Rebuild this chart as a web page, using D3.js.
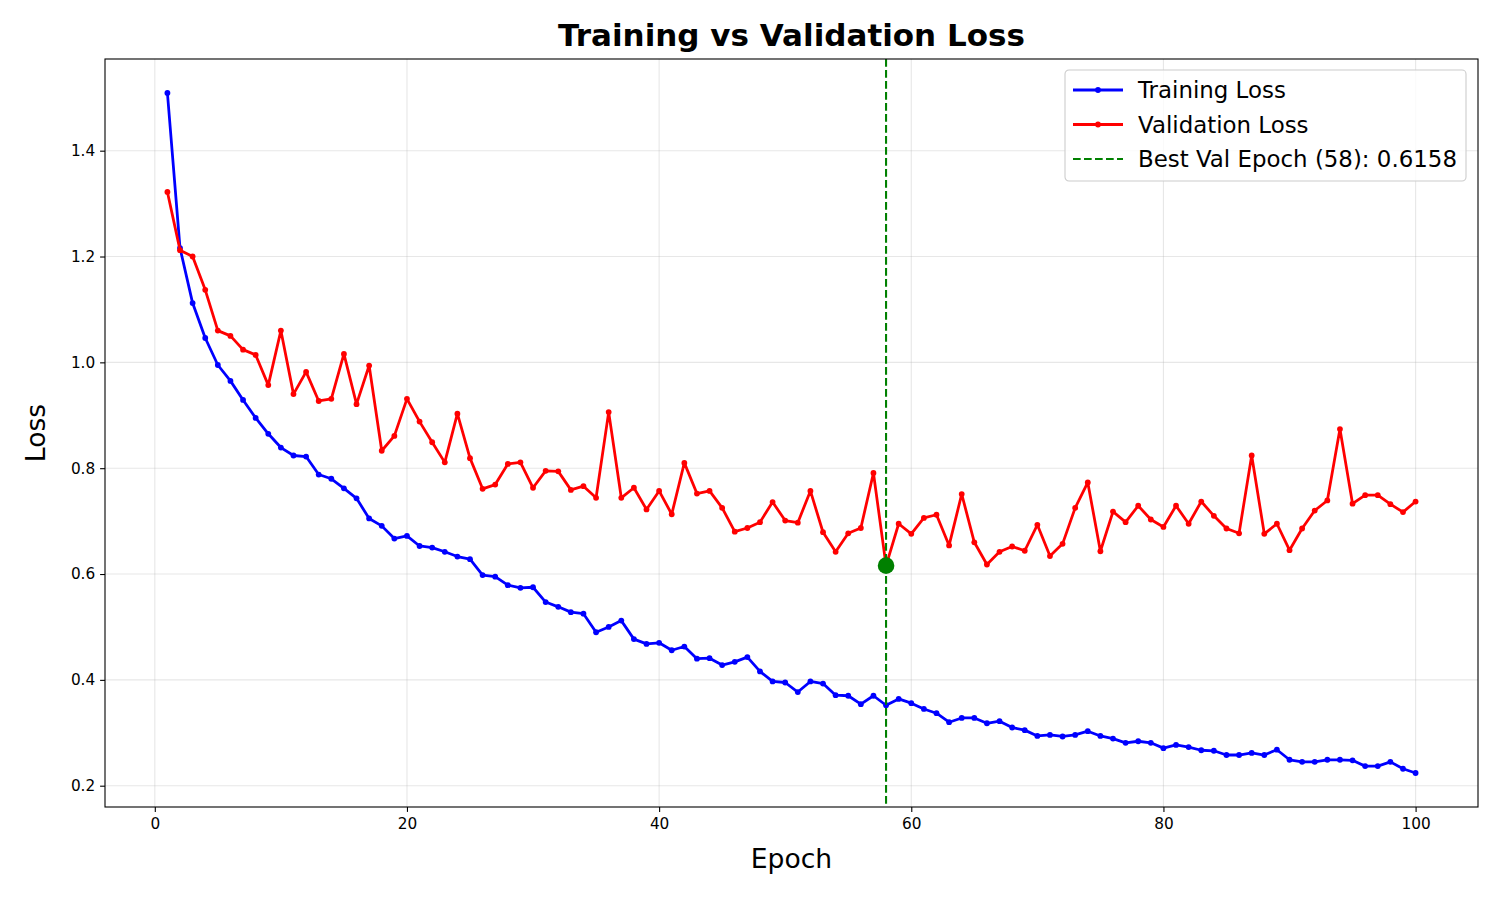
<!DOCTYPE html>
<html>
<head>
<meta charset="utf-8">
<script src="https://d3js.org/d3.v7.min.js"></script>
<style>
  body { margin: 0; background: #fff; }
  svg text { font-family: "DejaVu Sans", sans-serif; }
</style>
</head>
<body>
<div id="my_dataviz"></div>
<script>

// data
var trainLoss = [
  1.509, 1.216, 1.112, 1.046, 0.995, 0.965, 0.929, 0.895, 0.865, 0.839,
  0.824, 0.822, 0.788, 0.780, 0.762, 0.743, 0.705, 0.691, 0.667, 0.672,
  0.653, 0.650, 0.642, 0.633, 0.628, 0.598, 0.595, 0.579, 0.574, 0.575,
  0.547, 0.538, 0.528, 0.525, 0.490, 0.500, 0.512, 0.477, 0.468, 0.470,
  0.456, 0.463, 0.440, 0.441, 0.428, 0.434, 0.443, 0.416, 0.397, 0.395,
  0.377, 0.397, 0.393, 0.371, 0.370, 0.354, 0.370, 0.352, 0.364, 0.356,
  0.345, 0.337, 0.320, 0.328, 0.328, 0.318, 0.322, 0.310, 0.305, 0.294,
  0.296, 0.293, 0.296, 0.303, 0.294, 0.289, 0.281, 0.284, 0.281, 0.271,
  0.277, 0.273, 0.267, 0.266, 0.258, 0.258, 0.262, 0.258, 0.268, 0.249,
  0.245, 0.245, 0.249, 0.249, 0.248, 0.237, 0.237, 0.245, 0.232, 0.224
];
var valLoss = [
  1.322, 1.212, 1.200, 1.137, 1.060, 1.050, 1.024, 1.014, 0.957, 1.060,
  0.940, 0.982, 0.927, 0.931, 1.016, 0.921, 0.994, 0.833, 0.861, 0.931,
  0.888, 0.849, 0.811, 0.903, 0.819, 0.761, 0.769, 0.808, 0.811, 0.763,
  0.795, 0.794, 0.759, 0.766, 0.744, 0.906, 0.744, 0.763, 0.722, 0.757,
  0.713, 0.810, 0.752, 0.757, 0.725, 0.680, 0.687, 0.698, 0.736, 0.701,
  0.697, 0.757, 0.679, 0.642, 0.677, 0.687, 0.791, 0.6158, 0.695, 0.676,
  0.706, 0.712, 0.654, 0.751, 0.660, 0.618, 0.642, 0.652, 0.644, 0.693,
  0.634, 0.657, 0.725, 0.773, 0.643, 0.718, 0.698, 0.729, 0.703, 0.689,
  0.729, 0.695, 0.737, 0.710, 0.686, 0.677, 0.824, 0.676, 0.695, 0.645,
  0.686, 0.720, 0.739, 0.874, 0.733, 0.749, 0.749, 0.732, 0.717, 0.737
];
var epochs = d3.range(1, trainLoss.length + 1);
var xTicks = [0, 20, 40, 60, 80, 100];
var yTicks = [0.2, 0.4, 0.6, 0.8, 1.0, 1.2, 1.4];
var legendLabels = ["Training Loss", "Validation Loss"];

var bestIdx = d3.minIndex(valLoss);
var bestEpoch = epochs[bestIdx];
var bestVal = valLoss[bestIdx];

var margin = {top: 59, right: 22, bottom: 93, left: 105};
var width = 1500 - margin.left - margin.right;
var height = 900 - margin.top - margin.bottom;

var svg = d3.select("#my_dataviz")
  .append("svg")
    .attr("width", 1500)
    .attr("height", 900);

var g = svg.append("g")
    .attr("transform", "translate(" + margin.left + "," + margin.top + ")");

// matplotlib-like 5% padding
var xr = d3.extent(epochs), xpad = (xr[1] - xr[0]) * 0.05;
var x = d3.scaleLinear()
  .domain([xr[0] - xpad, xr[1] + xpad])
  .range([0, width]);

var all = trainLoss.concat(valLoss);
var yr = d3.extent(all), ypad = (yr[1] - yr[0]) * 0.05;
var y = d3.scaleLinear()
  .domain([yr[0] - ypad, yr[1] + ypad])
  .range([height, 0]);

// grid
g.append("g").selectAll("line")
  .data(xTicks).enter().append("line")
    .attr("x1", function(d) { return x(d); })
    .attr("x2", function(d) { return x(d); })
    .attr("y1", 0).attr("y2", height)
    .attr("stroke", "#b0b0b0").attr("stroke-opacity", 0.3).attr("stroke-width", 1.1);
g.append("g").selectAll("line")
  .data(yTicks).enter().append("line")
    .attr("y1", function(d) { return y(d); })
    .attr("y2", function(d) { return y(d); })
    .attr("x1", 0).attr("x2", width)
    .attr("stroke", "#b0b0b0").attr("stroke-opacity", 0.3).attr("stroke-width", 1.1);

// axes
var xAxis = g.append("g")
  .attr("transform", "translate(0," + height + ")")
  .call(d3.axisBottom(x).tickValues(xTicks).tickFormat(d3.format("d")).tickSizeOuter(0).tickSize(4.9).tickPadding(6.5));
var yAxis = g.append("g")
  .call(d3.axisLeft(y).tickValues(yTicks).tickFormat(d3.format(".1f")).tickSizeOuter(0).tickSize(4.9).tickPadding(4.9));
[xAxis, yAxis].forEach(function(a) {
  a.select(".domain").remove();
  a.selectAll("line").attr("stroke", "#000").attr("stroke-width", 1.1);
  a.selectAll("text").attr("font-size", "15.3px").attr("fill", "#000")
    .attr("font-family", "DejaVu Sans, sans-serif");
});

// lines
var line = function(vals) {
  return d3.line()
    .x(function(d, i) { return x(epochs[i]); })
    .y(function(d) { return y(d); })(vals);
};
var series = [
  {vals: trainLoss, color: "#0000ff"},
  {vals: valLoss, color: "#ff0000"}
];
series.forEach(function(s) {
  g.append("path")
    .attr("d", line(s.vals))
    .attr("fill", "none")
    .attr("stroke", s.color)
    .attr("stroke-width", 2.78)
    .attr("stroke-linejoin", "round");
  g.append("g").selectAll("circle")
    .data(s.vals).enter().append("circle")
      .attr("cx", function(d, i) { return x(epochs[i]); })
      .attr("cy", function(d) { return y(d); })
      .attr("r", 2.9)
      .attr("fill", s.color);
});

// best epoch
g.append("line")
  .attr("x1", x(bestEpoch)).attr("x2", x(bestEpoch))
  .attr("y1", 0).attr("y2", height)
  .attr("stroke", "#008000")
  .attr("stroke-width", 2.08)
  .attr("stroke-dasharray", "7.7,3.3");
g.append("circle")
  .attr("cx", x(bestEpoch)).attr("cy", y(bestVal))
  .attr("r", 8.3)
  .attr("fill", "#008000");

// frame
g.append("rect")
  .attr("width", width).attr("height", height)
  .attr("fill", "none").attr("stroke", "#000").attr("stroke-width", 1.1);

// titles
svg.append("text")
  .attr("x", margin.left + width / 2).attr("y", 46)
  .attr("text-anchor", "middle")
  .attr("font-size", "31px").attr("font-weight", "bold")
  .text("Training vs Validation Loss");
svg.append("text")
  .attr("x", margin.left + width / 2).attr("y", 868)
  .attr("text-anchor", "middle")
  .attr("font-size", "26.6px")
  .text("Epoch");
svg.append("text")
  .attr("transform", "translate(45," + (margin.top + height / 2) + ") rotate(-90)")
  .attr("text-anchor", "middle")
  .attr("font-size", "26.6px")
  .text("Loss");

// legend
var legend = svg.append("g").attr("transform", "translate(1065,70)");
legend.append("rect")
  .attr("width", 401).attr("height", 111)
  .attr("rx", 4)
  .attr("fill", "#fff").attr("fill-opacity", 0.8)
  .attr("stroke", "#cccccc").attr("stroke-width", 1.1);
var items = [
  {label: legendLabels[0], color: "#0000ff", dash: null, marker: true},
  {label: legendLabels[1], color: "#ff0000", dash: null, marker: true},
  {label: "Best Val Epoch (" + bestEpoch + "): " + bestVal.toFixed(4), color: "#008000", dash: "7.7,3.3", marker: false}
];
items.forEach(function(it, i) {
  var ly = 20 + i * 34.5;
  legend.append("line")
    .attr("x1", 8).attr("x2", 58).attr("y1", ly).attr("y2", ly)
    .attr("stroke", it.color)
    .attr("stroke-width", it.marker ? 2.78 : 2.08)
    .attr("stroke-dasharray", it.dash);
  if (it.marker) {
    legend.append("circle").attr("cx", 33).attr("cy", ly).attr("r", 2.9).attr("fill", it.color);
  }
  legend.append("text")
    .attr("x", 73).attr("y", ly + 8)
    .attr("font-size", "22.9px")
    .text(it.label);
});

</script>
</body>
</html>
